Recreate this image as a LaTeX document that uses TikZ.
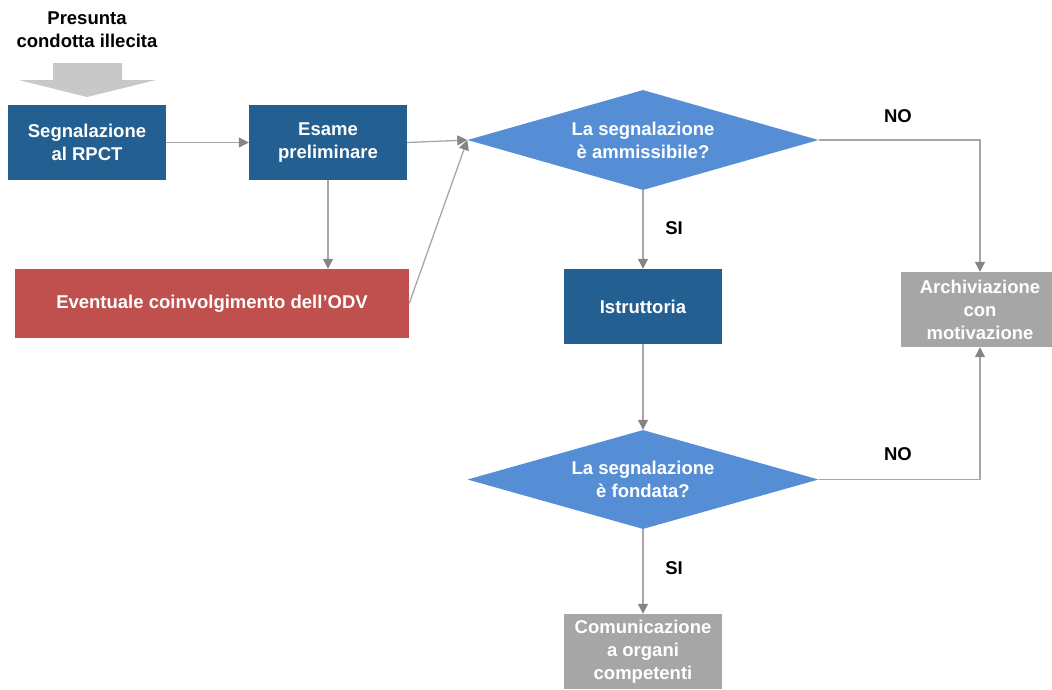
\documentclass[tikz,border=0pt]{standalone}
\usepackage{fontspec}
\setmainfont{Liberation Sans}
\usetikzlibrary{shapes.geometric,arrows.meta}
\definecolor{boxblue}{HTML}{245F91}
\definecolor{diablue}{HTML}{558ED5}
\definecolor{boxred}{HTML}{C0504D}
\definecolor{boxgray}{HTML}{A6A6A6}
\definecolor{lineg}{HTML}{A6A6A6}
\definecolor{headg}{HTML}{858585}
\definecolor{bigarrow}{HTML}{C8C8C8}
\tikzset{
  basefont/.style={font=\bfseries\fontsize{18.5}{23}\selectfont, align=center},
  stepbox/.style={basefont, rectangle, fill=boxblue, text=white, minimum width=158pt, minimum height=75pt, inner sep=0pt},
  redbox/.style={basefont, rectangle, fill=boxred, text=white, minimum width=394pt, minimum height=69pt, inner sep=0pt},
  graybox/.style={basefont, rectangle, fill=boxgray, text=white, minimum width=158pt, minimum height=75pt, inner sep=0pt},
  decision/.style={basefont, diamond, fill=diablue, text=white, minimum width=351pt, minimum height=100pt, inner sep=0pt, aspect=3.5},
  lbl/.style={basefont, text=black},
  conn/.style={draw=lineg, line width=1.3pt, -{Triangle[width=10pt,length=10pt,color=headg]}},
}
\begin{document}
\begin{tikzpicture}[x=1pt,y=-1pt]
\useasboundingbox (0,0) rectangle (1052,689);
% top label and big arrow
\node[lbl] (start) at (87,30) {Presunta\\condotta illecita};
\fill[bigarrow] (53,63) -- (122,63) -- (122,80) -- (156,80) -- (87,97) -- (19,80) -- (53,80) -- cycle;
% nodes
\node[stepbox] (seg) at (87,142.5) {Segnalazione\\al RPCT};
\node[stepbox] (esame) at (328,142.5) {Esame\\preliminare};
\node[redbox] (odv) at (212,303.5) {Eventuale coinvolgimento dell’ODV};
\node[decision] (d1) at (643,140) {La segnalazione\\è ammissibile?};
\node[stepbox] (istr) at (643,306.5) {Istruttoria};
\node[graybox] (arch) at (980,309.5) {Archiviazione\\con\\motivazione};
\node[decision, minimum height=99pt] (d2) at (643,479.5) {La segnalazione\\è fondata?};
\node[graybox] (com) at (643,651.5) {Comunicazione\\a organi\\competenti};
% connectors
\draw[conn] (seg.east) -- (esame.west);
\draw[conn] (esame.east) -- (d1.west);
\draw[conn] (esame.south) -- (esame.south |- odv.north);
\draw[conn] (odv.east) -- (d1.west);
\draw[conn] (d1.east) -| (arch.north);
\draw[conn] (d1.south) -- (istr.north);
\draw[conn] (istr.south) -- (d2.north);
\draw[conn] (d2.east) -| (arch.south);
\draw[conn] (d2.south) -- (com.north);
% labels
\node[lbl] (no1) at (898,116) {NO};
\node[lbl] (si1) at (674,228) {SI};
\node[lbl] (no2) at (898,454) {NO};
\node[lbl] (si2) at (674,568) {SI};
\end{tikzpicture}
\end{document}
